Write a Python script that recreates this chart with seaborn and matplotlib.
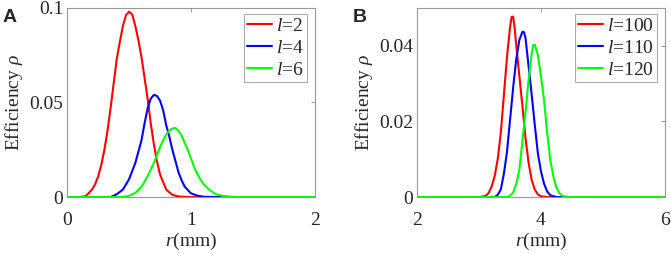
import pandas as pd
import seaborn as sns
import matplotlib.pyplot as plt

# panel A, l = 2, 4, 6
r_l2 = [0, 0.10, 0.15, 0.20, 0.225, 0.25, 0.275, 0.30, 0.325, 0.35, 0.375, 0.40, 0.425, 0.45, 0.475, 0.50,
        0.525, 0.55, 0.575, 0.60, 0.625, 0.65, 0.675, 0.70, 0.725, 0.75, 0.80, 0.85, 0.90, 1.0, 2.0]
rho_l2 = [0, 0, 0.0005, 0.004, 0.0068, 0.011, 0.017, 0.025, 0.035, 0.047, 0.060, 0.073, 0.082, 0.0905, 0.0962, 0.098,
          0.0965, 0.0905, 0.083, 0.074, 0.063, 0.052, 0.039, 0.028, 0.019, 0.012, 0.004, 0.0012, 0.0003, 0, 0]

r_l4 = [0, 0.35, 0.40, 0.45, 0.50, 0.55, 0.575, 0.60, 0.625, 0.65, 0.675, 0.70, 0.725, 0.75, 0.775, 0.80,
        0.825, 0.85, 0.875, 0.90, 0.925, 0.95, 1.0, 1.05, 1.10, 1.20, 2.0]
rho_l4 = [0, 0, 0.0015, 0.004, 0.0095, 0.018, 0.024, 0.030, 0.039, 0.047, 0.052, 0.054, 0.0535, 0.051, 0.046, 0.038,
          0.032, 0.025, 0.019, 0.013, 0.0088, 0.0055, 0.002, 0.0008, 0.0002, 0, 0]

r_l6 = [0, 0.45, 0.50, 0.55, 0.60, 0.65, 0.70, 0.725, 0.75, 0.775, 0.80, 0.825, 0.85, 0.875, 0.90, 0.925,
        0.95, 0.975, 1.00, 1.025, 1.05, 1.075, 1.10, 1.15, 1.20, 1.25, 1.30, 1.40, 2.0]
rho_l6 = [0, 0, 0.0007, 0.0022, 0.0055, 0.011, 0.018, 0.022, 0.0265, 0.030, 0.033, 0.0352, 0.0362, 0.0366, 0.035,
          0.0325, 0.0285, 0.025, 0.0205, 0.016, 0.0125, 0.0095, 0.007, 0.0038, 0.0016, 0.0007, 0.0003, 0, 0]

# panel B, l = 100, 110, 120
r_l100 = [2.0, 3.0, 3.10, 3.15, 3.20, 3.25, 3.30, 3.35, 3.40, 3.45, 3.50, 3.525, 3.55, 3.575, 3.60,
          3.65, 3.70, 3.75, 3.80, 3.85, 3.90, 3.95, 4.0, 4.1, 6.0]
rho_l100 = [0, 0, 0.0003, 0.001, 0.0027, 0.0055, 0.010, 0.017, 0.027, 0.037, 0.045, 0.0476, 0.0477, 0.0445, 0.040,
            0.032, 0.024, 0.0155, 0.009, 0.0045, 0.002, 0.0007, 0.0002, 0, 0]

r_l110 = [2.0, 3.25, 3.30, 3.35, 3.40, 3.45, 3.50, 3.55, 3.60, 3.65, 3.70, 3.725, 3.75, 3.80, 3.85,
          3.90, 3.95, 4.00, 4.05, 4.10, 4.15, 4.25, 6.0]
rho_l110 = [0, 0, 0.0006, 0.002, 0.0062, 0.012, 0.0205, 0.029, 0.0365, 0.0415, 0.0437, 0.0436, 0.042, 0.0345, 0.027,
            0.019, 0.0115, 0.0068, 0.0035, 0.0015, 0.0005, 0, 0]

r_l120 = [2.0, 3.45, 3.50, 3.55, 3.60, 3.65, 3.70, 3.75, 3.80, 3.85, 3.875, 3.90, 3.95, 4.00, 4.05,
          4.10, 4.15, 4.20, 4.25, 4.30, 4.35, 4.45, 6.0]
rho_l120 = [0, 0, 0.0004, 0.0012, 0.0035, 0.0072, 0.0148, 0.0225, 0.031, 0.038, 0.0402, 0.0403, 0.0375, 0.032, 0.0256,
            0.017, 0.0098, 0.0055, 0.0025, 0.001, 0.0003, 0, 0]

labels_a = ['$l$=2', '$l$=4', '$l$=6']
labels_b = ['$l$=100', '$l$=110', '$l$=120']
colors = ['#ff0000', '#0000ff', '#00ff00']

xticks_a = [0, 1, 2]
yticks_a = [0, 0.05, 0.1]
yticklabels_a = ['0', '0.05', '0.1']
xticks_b = [2, 4, 6]
yticks_b = [0, 0.02, 0.04]
yticklabels_b = ['0', '0.02', '0.04']

sns.set_style('white')
plt.rcParams['font.family'] = ['Liberation Serif', 'DejaVu Serif']
plt.rcParams['mathtext.fontset'] = 'custom'
plt.rcParams['mathtext.rm'] = 'Liberation Serif'
plt.rcParams['mathtext.it'] = 'Liberation Serif:italic'


def build(rs, vals, labels):
    frames = []
    for r, v, lab in zip(rs, vals, labels):
        frames.append(pd.DataFrame({'r': r, 'rho': v, 'l': lab}))
    return pd.concat(frames, ignore_index=True)


df_a = build([r_l2, r_l4, r_l6], [rho_l2, rho_l4, rho_l6], labels_a)
df_b = build([r_l100, r_l110, r_l120], [rho_l100, rho_l110, rho_l120], labels_b)

fig = plt.figure(figsize=(6.71, 2.54), dpi=100)
ax1 = fig.add_axes([0.1003, 0.224, 0.3685, 0.745])
ax2 = fig.add_axes([0.622, 0.224, 0.3685, 0.745])

panels = [
    (ax1, df_a, labels_a, (0, 2), (0, 0.1), xticks_a, yticks_a, yticklabels_a, 'A'),
    (ax2, df_b, labels_b, (2, 6), (0, 0.05), xticks_b, yticks_b, yticklabels_b, 'B'),
]

for ax, df, labs, xl, yl, xt, yt, ytl, tag in panels:
    sns.lineplot(data=df, x='r', y='rho', hue='l', hue_order=labs, palette=colors,
                 sort=False, estimator=None, linewidth=1.5, ax=ax)
    ax.set_xlim(*xl)
    ax.set_ylim(*yl)
    ax.set_xticks(xt)
    ax.set_xticklabels([str(t) for t in xt])
    ax.set_yticks(yt)
    ax.set_yticklabels(ytl)
    ax.tick_params(direction='in', length=3, width=0.6, color='#888888', labelsize=14,
                   top=True, right=True)
    ax.tick_params(axis='x', pad=11)
    ax.tick_params(axis='y', pad=3)
    for s in ax.spines.values():
        s.set_color('#999999')
        s.set_linewidth(0.8)
    ax.set_xlabel('$r$(mm)', fontsize=14, labelpad=1)
    ax.set_ylabel('Efficiency $\\rho$', fontsize=14, labelpad=3)
    leg = ax.legend(loc='upper right', bbox_to_anchor=(0.97, 0.965), fontsize=14,
                    frameon=True, fancybox=False, handlelength=1.3, handletextpad=0.2,
                    borderpad=0.15, labelspacing=0.22, borderaxespad=0)
    leg.get_frame().set_edgecolor('#999999')
    leg.get_frame().set_linewidth(0.8)
    ax.text(-0.26, 0.995, tag, transform=ax.transAxes, fontsize=14,
            fontweight='bold', family='Liberation Sans', va='top', ha='left')

fig.savefig('out.png', dpi=100)
